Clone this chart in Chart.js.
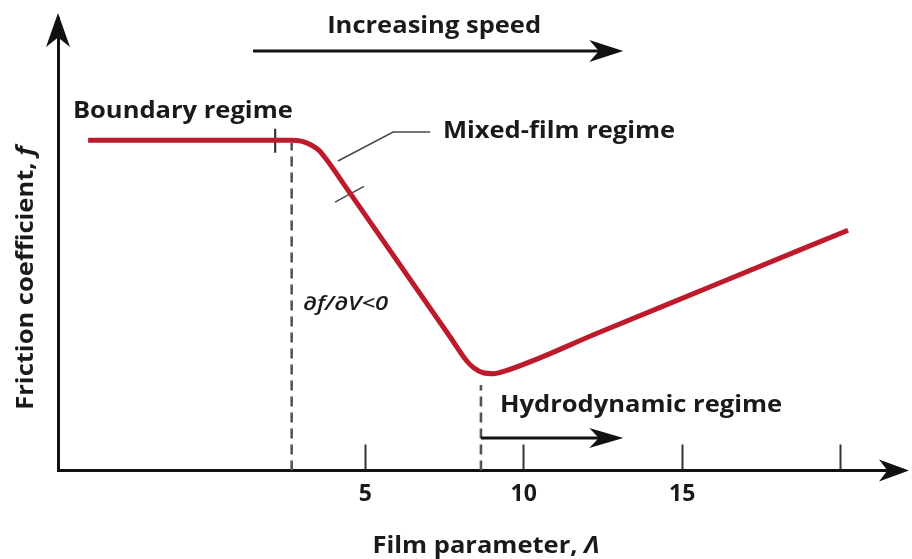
<!DOCTYPE html>
<html>
<head>
<meta charset="utf-8">
<script src="https://cdn.jsdelivr.net/npm/chart.js@4.4.1/dist/chart.umd.min.js"></script>
<style>
  html, body { margin: 0; padding: 0; background: #fff; }
  #wrap { width: 912px; height: 559px; position: relative; }
</style>
</head>
<body>
<div id="wrap"><canvas id="stribeck"></canvas></div>
<script>
// Stribeck curve: friction coefficient vs film parameter
const filmParam = [-3.74, 2.66, 2.98, 3.28, 3.55, 3.75, 4.52, 7.68, 8.19, 8.42, 8.72, 9.05, 9.37, 12.41, 16.19, 20.23];
const friction  = [7.30, 7.30, 7.28, 7.20, 7.07, 6.90, 6.13, 2.95, 2.43, 2.27, 2.16, 2.14, 2.19, 3.06, 4.15, 5.31];
const tickValues = [5, 10, 15, 20];
const tickLabels = ['5', '10', '15', ''];

// regime boundaries (film parameter) and dashed line heights
const boundaryEdge = [2.68, 7.24];
const hydroEdge = [8.65, 1.89];

const ctx = document.getElementById('stribeck').getContext('2d');
const FONT = '"Open Sans", "DejaVu Sans", sans-serif';
const STRETCH = 1.11;

function seg(x1, y1, x2, y2) {
  return [{ x: x1, y: y1 }, { x: x2, y: y2 }];
}

function arrowHead(c, tx, ty, dir, len, half) {
  c.save();
  c.translate(tx, ty);
  c.rotate(dir);
  c.beginPath();
  c.moveTo(0, 0);
  c.lineTo(-len, -half);
  c.lineTo(-len * 0.72, 0);
  c.lineTo(-len, half);
  c.closePath();
  c.fillStyle = '#111';
  c.fill();
  c.restore();
}

// draws runs of [text, font] side by side, stretched a bit horizontally
function label(c, runs, x, y, sx, align) {
  c.save();
  let w = 0;
  runs.forEach(r => { c.font = r[1]; w += c.measureText(r[0]).width; });
  c.translate(x, y);
  c.scale(sx, 1);
  let cx = align === 'center' ? -w / 2 : 0;
  runs.forEach(r => {
    c.font = r[1];
    c.fillText(r[0], cx, 0);
    cx += c.measureText(r[0]).width;
  });
  c.restore();
}

const annotations = {
  id: 'annotations',
  afterDraw(chart) {
    const c = chart.ctx;
    const xs = chart.scales.x, ys = chart.scales.y;
    const a = chart.chartArea;
    const px = v => xs.getPixelForValue(v);
    const py = v => ys.getPixelForValue(v);
    const bold = 'bold 23px ' + FONT;
    const boldIt = 'italic bold 23px ' + FONT;

    // axis arrow heads
    arrowHead(c, a.right + 14, a.bottom, 0, 30, 11);
    arrowHead(c, a.left, a.top - 5, -Math.PI / 2, 34, 12);

    // Increasing speed arrow
    c.strokeStyle = '#111';
    c.lineWidth = 3;
    c.beginPath();
    c.moveTo(px(1.46), py(9.27));
    c.lineTo(px(12.6), py(9.27));
    c.stroke();
    arrowHead(c, px(13.14), py(9.27), 0, 34, 11);

    // Hydrodynamic arrow
    c.beginPath();
    c.moveTo(px(hydroEdge[0]), py(0.72));
    c.lineTo(px(12.6), py(0.72));
    c.stroke();
    arrowHead(c, px(13.14), py(0.72), 0, 34, 10);

    c.fillStyle = '#1a1a1a';
    c.textBaseline = 'alphabetic';
    c.textAlign = 'left';
    label(c, [['Increasing speed', bold]], px(3.80), py(9.67), STRETCH);
    label(c, [['Boundary regime', bold]], px(-4.22), py(7.79), STRETCH);
    label(c, [['Mixed-film regime', bold]], px(7.45), py(7.35), STRETCH);
    label(c, [['Hydrodynamic regime', bold]], px(9.25), py(1.29), STRETCH);
    label(c, [['\u2202f/\u2202V<0', 'italic 600 19px ' + FONT]], px(3.04), py(3.55), 1.25);

    // axis titles
    label(c, [['Film parameter, ', bold], ['\u039b', boldIt]], 486, 553, STRETCH, 'center');

    c.save();
    c.translate(33, 278);
    c.rotate(-Math.PI / 2);
    label(c, [['Friction coefficient, ', bold], ['f', boldIt]], 0, 0, STRETCH, 'center');
    c.restore();
  }
};

const thin = { showLine: true, pointRadius: 0, borderColor: '#4a4a4a', borderWidth: 1.6 };

new Chart(ctx, {
  type: 'scatter',
  data: {
    datasets: [
      {
        label: 'Friction coefficient',
        data: filmParam.map((x, i) => ({ x, y: friction[i] })),
        showLine: true,
        pointRadius: 0,
        borderColor: '#bd1a2c',
        borderWidth: 5,
        cubicInterpolationMode: 'monotone'
      },
      { ...thin, data: seg(boundaryEdge[0], 0, boundaryEdge[0], boundaryEdge[1]), borderDash: [10, 6], borderWidth: 2.6, borderColor: '#555' },
      { ...thin, data: seg(hydroEdge[0], 0, hydroEdge[0], hydroEdge[1]), borderDash: [10, 6], borderWidth: 2.6, borderColor: '#555' },
      // end of boundary regime
      { ...thin, data: seg(2.16, 7.02, 2.16, 7.55), borderWidth: 2.2, borderColor: '#333' },
      // mixed-film mark and its leader
      { ...thin, data: seg(4.05, 5.93, 4.96, 6.28) },
      { ...thin, data: [{ x: 4.14, y: 6.84 }, { x: 5.88, y: 7.48 }, { x: 7.05, y: 7.48 }] }
    ]
  },
  options: {
    responsive: true,
    maintainAspectRatio: false,
    animation: false,
    layout: { padding: { top: 18, right: 17, left: 0, bottom: 0 } },
    plugins: { legend: { display: false }, tooltip: { enabled: false } },
    scales: {
      x: {
        type: 'linear',
        min: -4.69,
        max: 21.71,
        afterFit: s => { s.height = 88.5; },
        afterBuildTicks: s => { s.ticks = tickValues.map(v => ({ value: v })); },
        grid: { drawOnChartArea: false, drawTicks: true, tickLength: -26, tickWidth: 2, tickColor: '#333' },
        border: { color: '#111', width: 3 },
        ticks: {
          padding: 36,
          color: '#1a1a1a',
          font: { family: FONT, size: 23, weight: 'bold' },
          callback: (v) => tickLabels[tickValues.indexOf(v)] ?? ''
        }
      },
      y: {
        type: 'linear',
        min: 0,
        max: 10,
        afterFit: s => { s.width = 58; },
        grid: { drawOnChartArea: false, drawTicks: false },
        border: { color: '#111', width: 3 },
        ticks: { display: false }
      }
    }
  },
  plugins: [annotations]
});
</script>
</body>
</html>
